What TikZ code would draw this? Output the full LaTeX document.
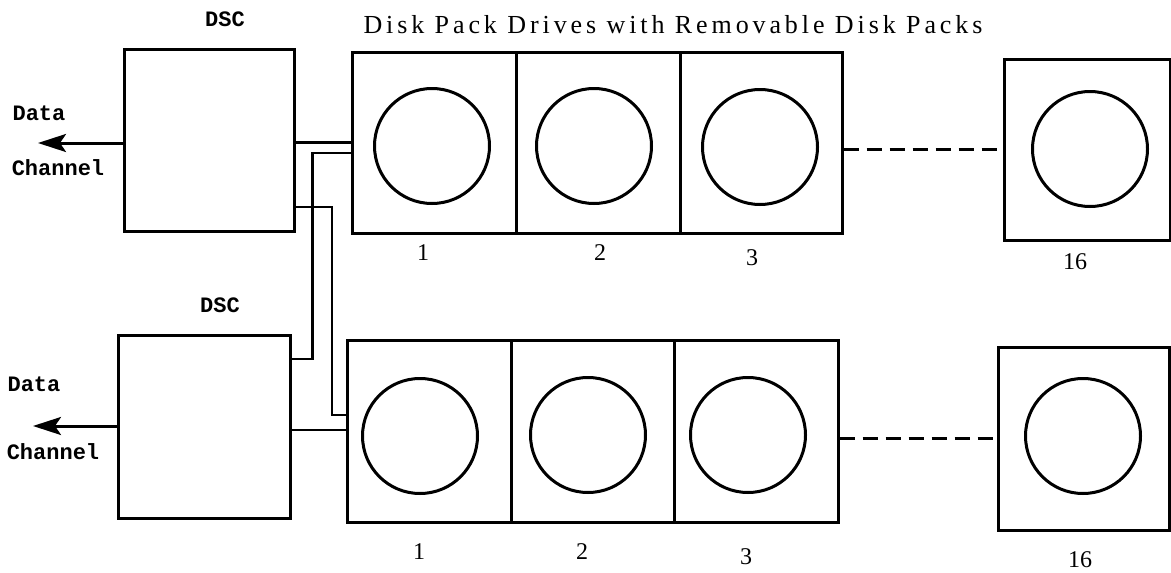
\documentclass[tikz,border=0pt]{standalone}
\usepackage{fontspec}
\setmainfont{Liberation Serif}
\newfontfamily\tyfont{Liberation Mono}
\newfontfamily\titfont{Liberation Serif}[LetterSpace=15]
\usetikzlibrary{arrows.meta}
\tikzset{
  bay/.style={draw, line width=3pt, inner sep=0pt},
  disk/.style={draw, circle, line width=3pt, minimum size=115pt, inner sep=0pt},
  wire/.style={line width=2.6pt},
  dwire/.style={line width=2.4pt, dash pattern=on 15pt off 8pt},
  tylab/.style={font=\tyfont\bfseries\fontsize{22}{24}\selectfont, inner sep=0pt},
  numlab/.style={font=\fontsize{24}{26}\selectfont, inner sep=0pt},
  chan/.style={line width=3pt, -{Stealth[length=28pt,width=18pt,inset=6pt]}}
}
\begin{document}
\begin{tikzpicture}[x=1pt,y=-1pt]
\useasboundingbox (0,0) rectangle (1171,573);
% DSC boxes
\node[bay, minimum width=170pt, minimum height=182pt] (dsc1) at (209,140) {};
\node[bay, minimum width=172pt, minimum height=183pt] (dsc2) at (204,426.5) {};
\node[tylab] (dscl1) at (225,19) {DSC};
\node[tylab] (dscl2) at (220,305) {DSC};
% data channel
\node[tylab] (data1) at (39,113) {Data};
\node[tylab] (chl1) at (58,168) {Channel};
\node[tylab] (data2) at (34,384) {Data};
\node[tylab] (chl2) at (53,452) {Channel};
\coordinate (ch1) at (38,143);
\coordinate (ch2) at (33,426);
\draw[chan] (dsc1.west |- ch1) -- (ch1);
\draw[chan] (dsc2.west |- ch2) -- (ch2);
% title
\node[inner sep=0pt, font=\titfont\fontsize{26}{28}\selectfont] (title) at (673,25) {Disk Pack Drives with Removable Disk Packs};
% top row
\node[bay, minimum width=164pt, minimum height=181pt] (t1) at (434,142.5) {};
\node[bay, minimum width=164pt, minimum height=181pt] (t2) at (598,142.5) {};
\node[bay, minimum width=162pt, minimum height=181pt] (t3) at (761,142.5) {};
\node[bay, minimum width=166pt, minimum height=181pt] (t16) at (1087,149.5) {};
\node[disk] (tc1) at (432,146) {};
\node[disk] (tc2) at (594,146) {};
\node[disk] (tc3) at (760,147) {};
\node[disk] (tc16) at (1090,149) {};
\node[numlab] (tn1) at (423,253) {1};
\node[numlab] (tn2) at (600,253) {2};
\node[numlab] (tn3) at (752,258) {3};
\node[numlab] (tn16) at (1075,262) {16};
\draw[dwire] (t3.east |- t16.west) -- (t16.west);
% bottom row
\node[bay, minimum width=164pt, minimum height=182pt] (b1) at (429,431) {};
\node[bay, minimum width=163pt, minimum height=182pt] (b2) at (592.5,431) {};
\node[bay, minimum width=164pt, minimum height=182pt] (b3) at (756,431) {};
\node[bay, minimum width=171pt, minimum height=183pt] (b16) at (1083.5,438.5) {};
\node[disk] (bc1) at (420,436) {};
\node[disk] (bc2) at (588,435) {};
\node[disk] (bc3) at (748,435) {};
\node[disk] (bc16) at (1083,436) {};
\node[numlab] (bn1) at (419,552) {1};
\node[numlab] (bn2) at (582,552) {2};
\node[numlab] (bn3) at (746,557) {3};
\node[numlab] (bn16) at (1080,560) {16};
\draw[dwire] (b3.east |- b16.west) -- (b16.west);
% connections
\draw[wire] (dsc1.east |- t1.west) -- (t1.west);
\draw[wire] ([yshift=-10.5pt]t1.west) -- ++(-38,0) |- (dsc2.east |- 0,359);
\draw[wire] (dsc1.east |- 0,207) -- (332,207) |- (b1.west |- 0,415);
\draw[wire] (dsc2.east |- 0,430) -- (b1.west |- 0,430);
\end{tikzpicture}
\end{document}
